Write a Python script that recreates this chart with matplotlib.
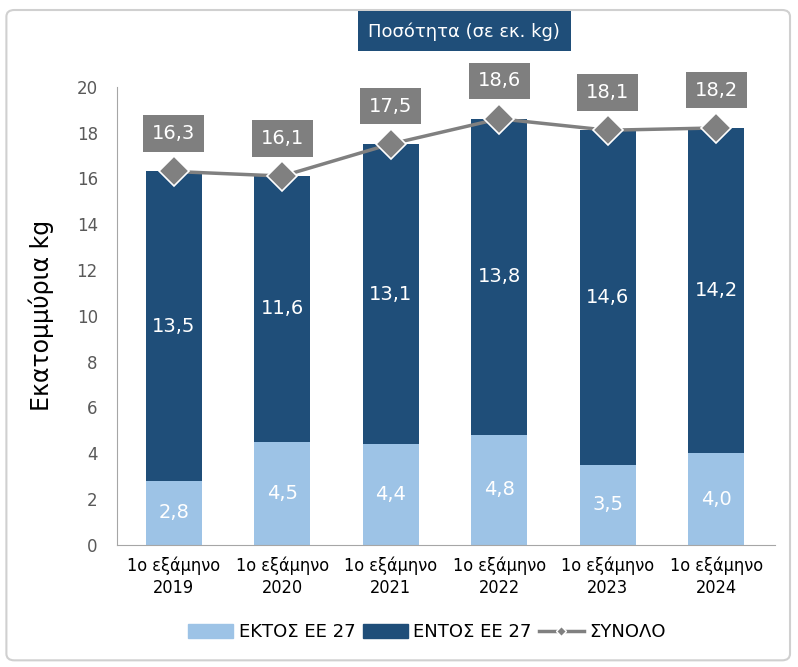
import matplotlib
matplotlib.use('Agg')
import matplotlib.pyplot as plt
from matplotlib.patches import FancyBboxPatch
from matplotlib.lines import Line2D
import numpy as np

categories = ['1ο εξάμηνο\n2019', '1ο εξάμηνο\n2020', '1ο εξάμηνο\n2021',
              '1ο εξάμηνο\n2022', '1ο εξάμηνο\n2023', '1ο εξάμηνο\n2024']
ektos = [2.8, 4.5, 4.4, 4.8, 3.5, 4.0]
entos = [13.5, 11.6, 13.1, 13.8, 14.6, 14.2]
synolo = [16.3, 16.1, 17.5, 18.6, 18.1, 18.2]

light = '#9DC3E6'
dark = '#1F4E79'
grey = '#7F7F7F'

def fmt(v):
    return f'{v:.1f}'.replace('.', ',')

fig = plt.figure(figsize=(7.98, 6.67), dpi=100)
fig.patches.append(FancyBboxPatch((0.008, 0.01), 0.982, 0.975, boxstyle='round,pad=0,rounding_size=0.01',
                                  transform=fig.transFigure, fc='none', ec='#D0D0D0', lw=1.5))
ax = fig.add_axes([0.147, 0.183, 0.824, 0.687])

x = np.arange(len(categories))
w = 0.52
ax.bar(x, ektos, w, color=light, label='ΕΚΤΟΣ ΕΕ 27', zorder=2)
ax.bar(x, entos, w, bottom=ektos, color=dark, label='ΕΝΤΟΣ ΕΕ 27', zorder=2)
ax.plot(x, synolo, color='#808080', lw=2.5, marker='D', ms=15, mfc='#808080', mec='white', mew=1.2, zorder=3)

for i in x:
    ax.text(i, ektos[i] / 2, fmt(ektos[i]), ha='center', va='center', color='white', fontsize=14)
    ax.text(i, ektos[i] + entos[i] / 2, fmt(entos[i]), ha='center', va='center', color='white', fontsize=14)
    ax.text(i, synolo[i] + 1.65, fmt(synolo[i]), ha='center', va='center', color='white', fontsize=14,
            bbox=dict(boxstyle='square,pad=0.45', fc=grey, ec='none'))

ax.set_xlim(-0.52, 5.54)
ax.set_ylim(0, 20)
ax.set_yticks(range(0, 21, 2))
ax.set_xticks(x)
ax.set_xticklabels(categories, fontsize=13, linespacing=1.3, stretch='condensed')
ax.tick_params(axis='y', labelsize=12, labelcolor='#595959', length=0, pad=14)
ax.tick_params(axis='x', length=0, pad=8)
for s in ['top', 'right']:
    ax.spines[s].set_visible(False)
ax.spines['left'].set_color('#A6A6A6')
ax.spines['bottom'].set_color('#A6A6A6')
ax.set_ylabel('Εκατομμύρια kg', fontsize=17, labelpad=16)

fig.text(0.582, 0.953, 'Ποσότητα (σε εκ. kg)', ha='center', va='center', color='white', fontsize=13,
         bbox=dict(boxstyle='square,pad=0.6', fc=dark, ec='none'))

handles = [plt.Rectangle((0, 0), 1, 1, color=light), plt.Rectangle((0, 0), 1, 1, color=dark),
           Line2D([], [], color='#808080', lw=2.5, marker='D', ms=5, mfc='#808080', mec='white')]
fig.legend(handles, ['ΕΚΤΟΣ ΕΕ 27', 'ΕΝΤΟΣ ΕΕ 27', 'ΣΥΝΟΛΟ'], loc='center', bbox_to_anchor=(0.535, 0.052),
           ncol=3, frameon=False, fontsize=13, handlelength=2.5, handleheight=0.8, columnspacing=0.4, handletextpad=0.3)

fig.savefig('out.png', dpi=100)
